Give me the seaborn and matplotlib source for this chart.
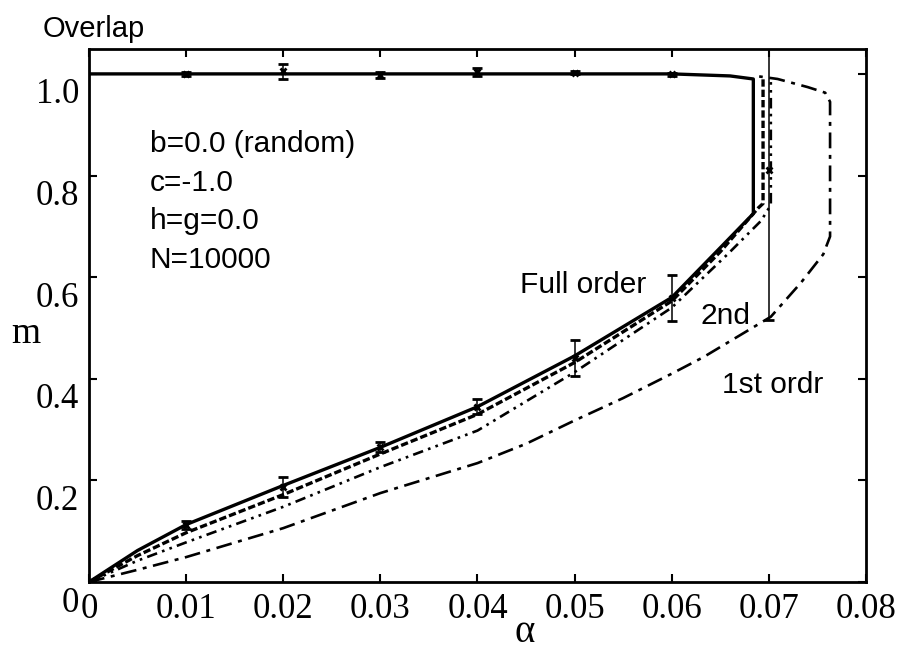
import numpy as np
import pandas as pd
import matplotlib
matplotlib.use("Agg")
import matplotlib.pyplot as plt
import matplotlib.transforms as mtransforms
import seaborn as sns

# ---- theory curves (alpha, overlap m), lower branch then jump to retrieval branch ----
alpha_full = [0, 0.005, 0.01, 0.02, 0.03, 0.04, 0.05, 0.06, 0.065, 0.0684,
              0.0684, 0.066, 0.06, 0.05, 0.04, 0.03, 0.02, 0.01, 0]
m_full = [0, 0.062, 0.113, 0.19, 0.265, 0.345, 0.445, 0.56, 0.658, 0.725,
          0.99, 0.996, 1.0, 1.0, 1.0, 1.0, 1.0, 1.0, 1.0]

alpha_3rd = [0, 0.005, 0.01, 0.02, 0.03, 0.04, 0.05, 0.06, 0.065, 0.0689, 0.0694, 0.0694]
m_3rd = [0, 0.052, 0.097, 0.172, 0.252, 0.33, 0.432, 0.553, 0.65, 0.736, 0.745, 0.99]

alpha_2nd = [0, 0.005, 0.01, 0.02, 0.03, 0.04, 0.05, 0.06, 0.0658, 0.0692, 0.0702, 0.0702]
m_2nd = [0, 0.042, 0.078, 0.148, 0.226, 0.298, 0.413, 0.54, 0.646, 0.711, 0.742, 0.99]

alpha_1st = [0, 0.005, 0.01, 0.02, 0.03, 0.04, 0.045, 0.05, 0.055, 0.06, 0.0633, 0.0702, 0.0733,
             0.0756, 0.0763, 0.0763, 0.0758, 0.074, 0.0709, 0.069]
m_1st = [0, 0.024, 0.049, 0.106, 0.175, 0.234, 0.272, 0.318, 0.362, 0.41, 0.443, 0.522, 0.589,
         0.645, 0.68, 0.945, 0.963, 0.974, 0.99, 0.995]

# ---- simulation results with error bars (N = 10000) ----
sim_alpha_low = [0.01, 0.02, 0.03, 0.04, 0.05, 0.06, 0.07]
sim_m_low = [0.113, 0.187, 0.265, 0.345, 0.441, 0.559, 0.811]
sim_err_low = [0.008, 0.02, 0.01, 0.015, 0.035, 0.046, 0.295]
sim_alpha_high = [0.01, 0.02, 0.03, 0.04, 0.05, 0.06]
sim_m_high = [1.0, 1.005, 0.998, 1.003, 1.002, 0.999]
sim_err_high = [0.004, 0.015, 0.006, 0.008, 0.003, 0.003]

x_ticks = [0, 0.01, 0.02, 0.03, 0.04, 0.05, 0.06, 0.07, 0.08]
x_ticklabels = ["0", "0.01", "0.02", "0.03", "0.04", "0.05", "0.06", "0.07", "0.08"]
y_ticks = [0, 0.2, 0.4, 0.6, 0.8, 1.0]
y_ticklabels = ["0", "0.2", "0.4", "0.6", "0.8", "1.0"]

params_text = ["b=0.0 (random)", "c=-1.0", "h=g=0.0", "N=10000"]

sns.set_style("ticks")
plt.rcParams["font.family"] = ["Liberation Sans", "DejaVu Sans"]
plt.rcParams.update({
    "text.color": "black", "axes.edgecolor": "black",
    "xtick.color": "black", "ytick.color": "black",
    "axes.labelcolor": "black",
})
serif = ["Liberation Serif", "DejaVu Serif"]

W, H = 903, 651
fig = plt.figure(figsize=(W / 100, H / 100), dpi=100)
L, R, T, B = 89, 866, 49, 582
ax = fig.add_axes([L / W, 1 - B / H, (R - L) / W, (B - T) / H])

curves = [
    (alpha_full, m_full, dict(color="black", lw=2.4, linestyle="-")),
    (alpha_3rd, m_3rd, dict(color="black", lw=2.4, dashes=(2.2, 0.9))),
    (alpha_2nd, m_2nd, dict(color="black", lw=1.9, dashes=(4, 2, 1, 2, 1, 2))),
    (alpha_1st, m_1st, dict(color="black", lw=1.9, dashes=(6, 2.5, 1.5, 2.5))),
]
for a, m, style in curves:
    df = pd.DataFrame({"alpha": a, "m": m})
    sns.lineplot(data=df, x="alpha", y="m", ax=ax, sort=False, estimator=None, **style)

ax.errorbar(sim_alpha_low, sim_m_low, yerr=sim_err_low, fmt="x", color="black",
            ms=5, mew=2, elinewidth=1.1, capsize=3.5, capthick=1.2)
ax.errorbar(sim_alpha_high, sim_m_high, yerr=sim_err_high, fmt="x", color="black",
            ms=5, mew=2, elinewidth=1.1, capsize=3.5, capthick=1.2)

ax.set_xlim(0, 0.08)
ax.set_ylim(0, 1.049)
ax.set_xticks(x_ticks)
ax.set_xticklabels(x_ticklabels, family=serif, fontsize=25)
ax.set_yticks(y_ticks)
ax.set_yticklabels(y_ticklabels, family=serif, fontsize=25)
ax.tick_params(direction="in", length=6, width=1.5, top=True, right=True, pad=7,
               colors="black")
ax.tick_params(axis="x", pad=8)
for sp in ax.spines.values():
    sp.set_visible(True)
    sp.set_linewidth(2)
    sp.set_color("black")
ax.set_xlabel("")
ax.set_ylabel("")

# y tick labels sit a little below their ticks
off = mtransforms.ScaledTranslation(0, -0.17, fig.dpi_scale_trans)
for lab in ax.get_yticklabels():
    lab.set_transform(lab.get_transform() + off)

fig.text(26 / W, 1 - 334 / H, "m", family=serif, fontsize=27, ha="center", va="center")
fig.text(525 / W, 1 - 642 / H, "α", family=serif, fontsize=28, ha="center", va="baseline")
fig.text(43 / W, 1 - 37 / H, "Overlap", fontsize=21)

for i, s in enumerate(params_text):
    fig.text(150 / W, 1 - (152 + 38.7 * i) / H, s, fontsize=21.5, va="baseline")

fig.text(520 / W, 1 - 293 / H, "Full order", fontsize=21.5, va="baseline")
fig.text(700 / W, 1 - 324 / H, "2nd", fontsize=21.5, va="baseline")
fig.text(722 / W, 1 - 393 / H, "1st ordr", fontsize=21.5, va="baseline")

fig.savefig("out.png", dpi=100, facecolor="white")
